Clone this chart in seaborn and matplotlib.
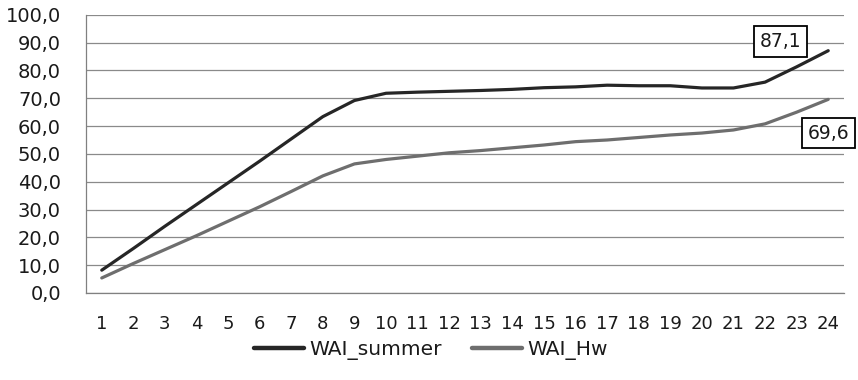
import numpy as np
import pandas as pd
import matplotlib
matplotlib.use("Agg")
import matplotlib.pyplot as plt
import seaborn as sns
from matplotlib.ticker import FuncFormatter, MultipleLocator

# values
hours = list(range(1, 25))
wai_summer = [8.2, 16.0, 24.0, 31.8, 39.6, 47.4, 55.4, 63.4, 69.2, 71.8, 72.2, 72.5,
              72.8, 73.2, 73.8, 74.1, 74.7, 74.5, 74.5, 73.7, 73.7, 75.8, 81.3, 87.1]
wai_hw = [5.4, 10.6, 15.6, 20.6, 25.8, 31.0, 36.5, 42.1, 46.4, 48.0, 49.2, 50.4,
          51.2, 52.2, 53.2, 54.4, 55.0, 55.9, 56.8, 57.5, 58.6, 60.8, 65.0, 69.6]
series_names = ["WAI_summer", "WAI_Hw"]
series_colors = ["#262626", "#6e6e6e"]

df = pd.DataFrame({
    "hour": hours * 2,
    "value": wai_summer + wai_hw,
    "series": [series_names[0]] * len(hours) + [series_names[1]] * len(hours),
})

sns.set_style("white")
plt.rcParams["font.family"] = ["DejaVu Sans"]
plt.rcParams["text.color"] = "#1a1a1a"

fig = plt.figure(figsize=(8.58, 3.8), dpi=100)
ax = fig.add_axes([0.1002, 0.229, 0.8835, 0.732])

sns.lineplot(data=df, x="hour", y="value", hue="series", hue_order=series_names,
             palette=series_colors, linewidth=2.3, ax=ax, legend=False)

ax.set_xlim(0.5, 24.5)
ax.set_ylim(0, 100)
ax.yaxis.set_major_locator(MultipleLocator(10))
ax.yaxis.set_major_formatter(FuncFormatter(lambda v, p: f"{v:.1f}".replace(".", ",")))
ax.set_xticks(hours)
ax.set_xticklabels([str(h) for h in hours], fontsize=13, color="#1a1a1a")
ax.set_xticks(np.arange(0.5, 25, 1), minor=True)
ax.tick_params(axis="x", which="major", length=0, pad=16)
ax.tick_params(axis="x", which="minor", length=5, width=0.9, color="#808080", direction="out")
ax.tick_params(axis="y", length=6, width=0.9, color="#808080", direction="out",
               labelsize=14, labelcolor="#1a1a1a", pad=12)
ax.grid(axis="y", color="#8a8a8a", linewidth=0.9)
ax.set_axisbelow(True)
ax.set_xlabel("")
ax.set_ylabel("")
for side in ["top", "right"]:
    ax.spines[side].set_visible(False)
for side in ["left", "bottom"]:
    ax.spines[side].set_color("#808080")
    ax.spines[side].set_linewidth(0.9)

# end value labels in boxes
box = dict(boxstyle="square,pad=0.3", facecolor="white", edgecolor="black", linewidth=1.3)
ax.text(22.48, 90.4, f"{wai_summer[-1]:.1f}".replace(".", ","), ha="center", va="center",
        fontsize=13.5, bbox=box)
ax.text(24.0, 57.5, f"{wai_hw[-1]:.1f}".replace(".", ","), ha="center", va="center",
        fontsize=13.5, bbox=box, clip_on=False)

handles = [plt.Line2D([0], [0], color=c, linewidth=3.2) for c in series_colors]
fig.legend(handles, series_names, loc="center", bbox_to_anchor=(0.502, 0.078), ncol=2,
           frameon=False, handlelength=2.5, handletextpad=0.25, columnspacing=1.5,
           prop={"size": 14.5})

fig.savefig("out.png", dpi=100)
